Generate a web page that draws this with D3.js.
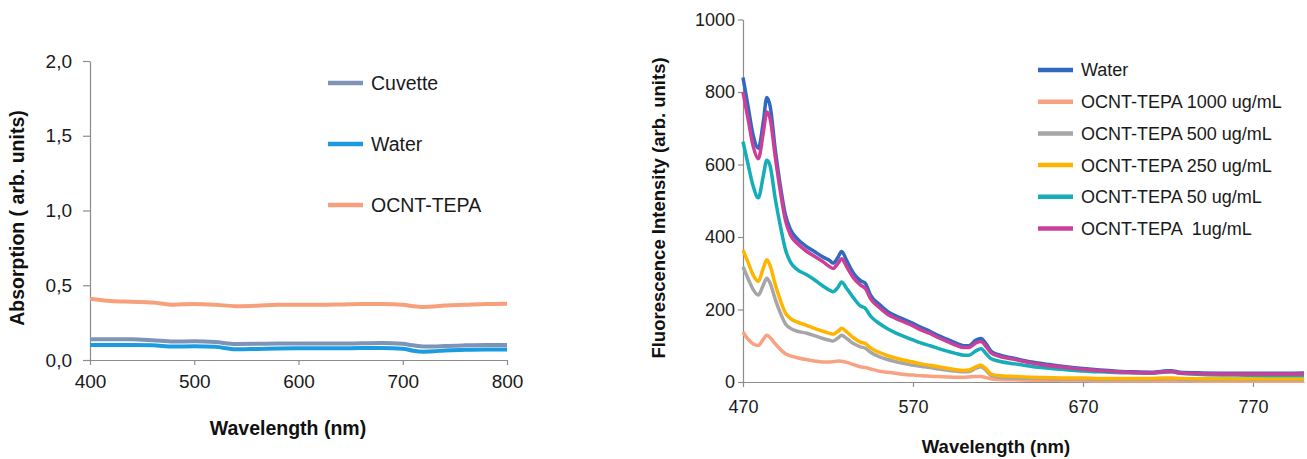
<!DOCTYPE html>
<html>
<head>
<meta charset="utf-8">
<script src="https://cdn.jsdelivr.net/npm/d3@7"></script>
<style>
  body { margin: 0; background: #fff; }
  svg { display: block; font-family: "Liberation Sans", Arial, sans-serif; }
  .axis path, .axis line { stroke: #8c8c8c; stroke-width: 1.2; }
  .axis text { fill: #1a1a1a; }
  .title { font-weight: bold; fill: #111; }
</style>
</head>
<body>
<svg id="chart" width="1307" height="459"></svg>
<script>
// left panel: absorption
var absWl = [400, 420, 440, 460, 480, 500, 520, 540, 560, 580, 600, 620, 640, 660, 680, 700, 710, 720, 730, 740, 760, 780, 800];
var absCuvette = [0.138, 0.138, 0.138, 0.132, 0.123, 0.125, 0.12, 0.107, 0.108, 0.11, 0.11, 0.11, 0.11, 0.112, 0.114, 0.108, 0.098, 0.09, 0.09, 0.094, 0.098, 0.1, 0.1];
var absWater = [0.1, 0.1, 0.1, 0.098, 0.09, 0.092, 0.088, 0.072, 0.074, 0.077, 0.078, 0.078, 0.078, 0.08, 0.08, 0.076, 0.062, 0.056, 0.058, 0.064, 0.068, 0.07, 0.07];
var absOcnt = [0.41, 0.395, 0.39, 0.385, 0.37, 0.375, 0.37, 0.36, 0.363, 0.37, 0.37, 0.37, 0.372, 0.375, 0.375, 0.37, 0.36, 0.355, 0.358, 0.365, 0.37, 0.375, 0.377];
var absNames = ["Cuvette", "Water", "OCNT-TEPA"];
var absColors = ["#7f93b6", "#1b9be0", "#f7a07c"];
var absYTicks = [0, 0.5, 1.0, 1.5, 2.0];
var absXTicks = [400, 500, 600, 700, 800];

// right panel: fluorescence
var fluoWl = [470, 473, 476, 479, 482, 484, 486, 489, 492, 495, 498, 502, 507, 512, 517, 521, 523, 526, 528, 531, 535, 539, 542, 545, 550, 555, 560, 565, 570, 575, 580, 585, 590, 595, 600, 603, 607, 610, 613, 616, 620, 630, 640, 650, 660, 670, 680, 690, 700, 710, 717, 722, 727, 740, 760, 780, 800];
var fluoWater = [840, 760, 680, 645, 720, 785, 760, 640, 540, 460, 420, 395, 375, 360, 345, 335, 328, 345, 360, 335, 300, 280, 272, 240, 215, 195, 182, 172, 162, 150, 140, 128, 118, 108, 100, 100, 116, 120, 105, 85, 76, 65, 55, 48, 42, 37, 33, 30, 28, 27, 30, 31, 27, 25, 24, 24, 25];
var fluo1000 = [138, 118, 105, 101, 118, 129, 122, 105, 90, 78, 72, 67, 62, 58, 55, 55, 56, 58, 57, 54, 48, 42, 40, 36, 30, 27, 24, 21, 19, 17, 16, 15, 14, 13, 13, 14, 15, 15, 12, 9, 7, 6, 5, 5, 4, 4, 3, 3, 3, 3, 3, 3, 3, 2, 2, 2, 2];
var fluo500 = [318, 285, 255, 240, 268, 286, 272, 228, 190, 160, 148, 140, 135, 128, 120, 115, 113, 122, 129, 120, 106, 97, 93, 82, 70, 62, 56, 51, 46, 43, 40, 36, 33, 30, 28, 29, 38, 42, 32, 18, 14, 11, 10, 9, 8, 8, 7, 7, 7, 7, 8, 8, 7, 6, 6, 6, 6];
var fluo250 = [364, 330, 295, 278, 315, 337, 320, 268, 225, 190, 175, 165, 157, 148, 140, 134, 132, 140, 148, 138, 122, 110, 106, 94, 82, 73, 66, 60, 55, 50, 46, 42, 38, 34, 32, 33, 42, 46, 36, 22, 18, 15, 13, 12, 11, 11, 10, 10, 10, 10, 11, 11, 10, 9, 9, 9, 9];
var fluo50 = [663, 600, 540, 508, 570, 612, 595, 505, 430, 365, 330, 310, 297, 282, 265, 253, 249, 262, 276, 258, 232, 210, 203, 182, 162, 147, 135, 125, 116, 107, 100, 92, 85, 79, 74, 74, 86, 92, 78, 64, 58, 50, 43, 38, 34, 30, 28, 26, 25, 24, 27, 28, 24, 21, 19, 18, 18];
var fluo1 = [800, 725, 650, 616, 690, 745, 725, 620, 525, 445, 405, 382, 362, 347, 332, 318, 313, 328, 340, 318, 287, 268, 258, 230, 206, 187, 175, 165, 155, 143, 134, 122, 112, 102, 95, 95, 108, 112, 98, 80, 72, 62, 52, 45, 40, 35, 31, 28, 26, 25, 28, 29, 25, 23, 22, 22, 23];
var fluoNames = ["Water", "OCNT-TEPA 1000 ug/mL", "OCNT-TEPA 500 ug/mL", "OCNT-TEPA 250 ug/mL", "OCNT-TEPA 50 ug/mL", "OCNT-TEPA  1ug/mL"];
var fluoColors = ["#3069c0", "#f9a282", "#a6a6a6", "#ffb400", "#14adb8", "#cc3f98"];
var fluoYTicks = [0, 200, 400, 600, 800, 1000];
var fluoXTicks = [470, 570, 670, 770];

var svg = d3.select("#chart");
var commaFmt = function (d) { return d3.format(".1f")(d).replace(".", ","); };

function drawPanel(cfg) {
  let x = d3.scaleLinear().domain(cfg.xDomain).range(cfg.xRange);
  let y = d3.scaleLinear().domain(cfg.yDomain).range(cfg.yRange);

  let g = svg.append("g");

  g.append("g")
    .attr("class", "axis")
    .attr("transform", `translate(0, ${cfg.yRange[0]})`)
    .style("font-size", cfg.tickFont + "px")
    .call(d3.axisBottom(x).tickValues(cfg.xTicks).tickSize(5).tickSizeOuter(0).tickPadding(cfg.xPad).tickFormat(d3.format("d")))
    .selectAll("text").style("font-family", "inherit");

  g.append("g")
    .attr("class", "axis")
    .attr("transform", `translate(${cfg.xRange[0]}, 0)`)
    .style("font-size", cfg.tickFont + "px")
    .call(d3.axisLeft(y).tickValues(cfg.yTicks).tickSize(cfg.yTickSize).tickSizeOuter(0).tickPadding(cfg.yPad).tickFormat(cfg.yFmt))
    .selectAll("text").style("font-family", "inherit");

  svg.selectAll(".axis").attr("font-family", null);

  let line = d3.line()
    .x((d) => x(d[0]))
    .y((d) => y(d[1]))
    .curve(d3.curveMonotoneX);

  cfg.series.forEach((vals, i) => {
    let pts = cfg.wl.map((w, j) => [w, vals[j]]);
    g.append("path")
      .datum(pts)
      .attr("fill", "none")
      .attr("stroke", cfg.colors[i])
      .attr("stroke-width", cfg.lineWidth)
      .attr("stroke-linejoin", "round")
      .attr("d", line);
  });

  // legend
  cfg.names.forEach((name, i) => {
    let ly = cfg.legY + i * cfg.legStep;
    g.append("line")
      .attr("x1", cfg.legX).attr("x2", cfg.legX + 35)
      .attr("y1", ly).attr("y2", ly)
      .attr("stroke", cfg.colors[i])
      .attr("stroke-width", 4.5);
    g.append("text")
      .attr("x", cfg.legX + 43)
      .attr("y", ly)
      .attr("dy", "0.36em")
      .style("font-size", cfg.legFont + "px")
      .style("fill", "#1a1a1a")
      .style("white-space", "pre")
      .text(name);
  });

  g.append("text")
    .attr("class", "title")
    .attr("x", cfg.xTitle[0])
    .attr("y", cfg.xTitle[1])
    .style("text-anchor", "middle")
    .style("font-size", cfg.titleFont + "px")
    .text("Wavelength (nm)");

  g.append("text")
    .attr("class", "title")
    .attr("transform", `translate(${cfg.yTitle[0]}, ${cfg.yTitle[1]}) rotate(-90)`)
    .attr("dy", "0.35em")
    .style("text-anchor", "middle")
    .style("font-size", cfg.titleFont + "px")
    .text(cfg.yLabel);
}

drawPanel({
  wl: absWl,
  series: [absCuvette, absWater, absOcnt],
  names: absNames,
  colors: absColors,
  xDomain: [400, 800], xRange: [90, 507],
  yDomain: [0, 2], yRange: [360, 61],
  xTicks: absXTicks, yTicks: absYTicks,
  yFmt: commaFmt,
  tickFont: 19, xPad: 10, yPad: 11, yTickSize: 7,
  lineWidth: 4,
  legX: 328, legY: 83, legStep: 61, legFont: 19.5,
  titleFont: 19.5,
  xTitle: [288, 435], yTitle: [17, 218],
  yLabel: "Absorption ( arb. units)"
});

drawPanel({
  wl: fluoWl,
  series: [fluoWater, fluo1000, fluo500, fluo250, fluo50, fluo1],
  names: fluoNames,
  colors: fluoColors,
  xDomain: [470, 800], xRange: [743, 1304],
  yDomain: [0, 1000], yRange: [382, 19.5],
  xTicks: fluoXTicks, yTicks: fluoYTicks,
  yFmt: d3.format("d"),
  tickFont: 18, xPad: 13, yPad: 3, yTickSize: 5,
  lineWidth: 3.5,
  legX: 1038, legY: 70, legStep: 31.7, legFont: 18,
  titleFont: 18.5,
  xTitle: [996, 453], yTitle: [659, 208],
  yLabel: "Fluorescence Intensity (arb. units)"
});
</script>
</body>
</html>
